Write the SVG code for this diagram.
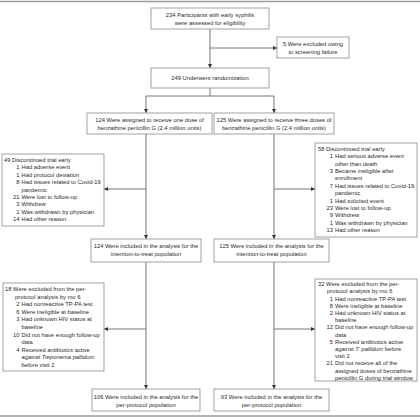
<svg xmlns="http://www.w3.org/2000/svg" width="420" height="420" viewBox="0 0 420 420">
<style>
text{font-family:"Liberation Sans",Arial,sans-serif;font-size:5.8px;fill:#2a2a2a}
.c{text-anchor:middle}
.n{text-anchor:end}
.box{fill:#fff;stroke:#8a8a8a;stroke-width:0.8}
.ln{fill:none;stroke:#555;stroke-width:0.8}
.rule{stroke:#9a9a9a;stroke-width:1.6}
.i{font-style:italic}
</style>
<defs>
<marker id="ah" markerUnits="userSpaceOnUse" markerWidth="4" markerHeight="4" viewBox="0 0 6 6" refX="6" refY="3" orient="auto">
<path d="M0,0 L6,3 L0,6 z" fill="#333"/>
</marker>
</defs>
<rect width="420" height="420" fill="#fff"/>
<line class="rule" x1="0" y1="1.5" x2="420" y2="1.5"/>
<line class="rule" x1="0" y1="416" x2="420" y2="416"/>

<g id="connectors">
<line class="ln" x1="210" y1="29" x2="210" y2="68" marker-end="url(#ah)"/>
<line class="ln" x1="210" y1="48" x2="277" y2="48" marker-end="url(#ah)"/>
<polyline class="ln" points="210,88 210,96 146,96 146,113" marker-end="url(#ah)"/>
<polyline class="ln" points="210,96 274,96 274,113" marker-end="url(#ah)"/>
<line class="ln" x1="146" y1="134" x2="146" y2="239" marker-end="url(#ah)"/>
<line class="ln" x1="146" y1="189" x2="104" y2="189" marker-end="url(#ah)"/>
<line class="ln" x1="274" y1="134" x2="274" y2="239" marker-end="url(#ah)"/>
<line class="ln" x1="274" y1="189" x2="315" y2="189" marker-end="url(#ah)"/>
<line class="ln" x1="146" y1="262" x2="146" y2="389" marker-end="url(#ah)"/>
<line class="ln" x1="146" y1="329" x2="104" y2="329" marker-end="url(#ah)"/>
<line class="ln" x1="274" y1="262" x2="274" y2="389" marker-end="url(#ah)"/>
<line class="ln" x1="274" y1="329" x2="315" y2="329" marker-end="url(#ah)"/>
</g>

<g id="assessed">
<rect class="box" x="151" y="8" width="118" height="21"/>
<text class="c" x="210" y="17">234 Participants with early syphilis</text>
<text class="c" x="210" y="25">were assessed for eligibility</text>
</g>

<g id="excluded">
<rect class="box" x="277" y="37" width="72" height="21"/>
<text class="c" x="313" y="45.5">5 Were excluded owing</text>
<text class="c" x="313" y="53.5">to screening failure</text>
</g>

<g id="randomization">
<rect class="box" x="151" y="68" width="118" height="20"/>
<text class="c" x="210" y="80">249 Underwent randomization</text>
</g>

<g id="one-dose">
<rect class="box" x="87" y="113" width="125" height="21"/>
<text class="c" x="149.5" y="121.5">124 Were assigned to receive one dose of</text>
<text class="c" x="149.5" y="129.5">benzathine penicillin G (2.4 million units)</text>
</g>

<g id="three-doses">
<rect class="box" x="214" y="113" width="120" height="21"/>
<text class="c" x="274" y="121.5">125 Were assigned to receive three doses of</text>
<text class="c" x="274" y="129.5">benzathine penicillin G (2.4 million units)</text>
</g>

<g id="discontinued-left">
<rect class="box" x="2" y="154" width="102" height="72"/>
<text x="4" y="162">49 Discontinued trial early</text>
<text class="n" x="19.5" y="169.4">1</text><text x="21.5" y="169.4">Had adverse event</text>
<text class="n" x="19.5" y="176.8">1</text><text x="21.5" y="176.8">Had protocol deviation</text>
<text class="n" x="19.5" y="184.2">8</text><text x="21.5" y="184.2">Had issues related to Covid-19</text>
<text x="21.5" y="191.6">pandemic</text>
<text class="n" x="19.5" y="199">21</text><text x="21.5" y="199">Were lost to follow-up</text>
<text class="n" x="19.5" y="206.4">3</text><text x="21.5" y="206.4">Withdrew</text>
<text class="n" x="19.5" y="213.8">1</text><text x="21.5" y="213.8">Was withdrawn by physician</text>
<text class="n" x="19.5" y="221.2">14</text><text x="21.5" y="221.2">Had other reason</text>
</g>

<g id="discontinued-right">
<rect class="box" x="315" y="143" width="102" height="94"/>
<text x="318" y="150.7">58 Discontinued trial early</text>
<text class="n" x="333" y="158.1">1</text><text x="335" y="158.1">Had serious adverse event</text>
<text x="335" y="165.5">other than death</text>
<text class="n" x="333" y="172.9">3</text><text x="335" y="172.9">Became ineligible after</text>
<text x="335" y="180.3">enrollment</text>
<text class="n" x="333" y="187.7">7</text><text x="335" y="187.7">Had issues related to Covid-19</text>
<text x="335" y="195.1">pandemic</text>
<text class="n" x="333" y="202.5">1</text><text x="335" y="202.5">Had solicited event</text>
<text class="n" x="333" y="209.9">23</text><text x="335" y="209.9">Were lost to follow-up</text>
<text class="n" x="333" y="217.3">9</text><text x="335" y="217.3">Withdrew</text>
<text class="n" x="333" y="224.7">1</text><text x="335" y="224.7">Was withdrawn by physician</text>
<text class="n" x="333" y="232.1">13</text><text x="335" y="232.1">Had other reason</text>
</g>

<g id="itt-left">
<rect class="box" x="91" y="239" width="110" height="23"/>
<text class="c" x="146" y="248">124 Were included in the analysis for the</text>
<text class="c" x="146" y="256">intention-to-treat population</text>
</g>

<g id="itt-right">
<rect class="box" x="214" y="239" width="115" height="23"/>
<text class="c" x="271.5" y="248">125 Were included in the analysis for the</text>
<text class="c" x="271.5" y="256">intention-to-treat population</text>
</g>

<g id="pp-excluded-left">
<rect class="box" x="3" y="283" width="101" height="88"/>
<text x="5" y="291">18 Were excluded from the per-</text>
<text x="15" y="298.6">protocol analysis by mo 6</text>
<text class="n" x="19.5" y="306.2">2</text><text x="21.5" y="306.2">Had nonreactive TP-PA test</text>
<text class="n" x="19.5" y="313.8">6</text><text x="21.5" y="313.8">Were ineligible at baseline</text>
<text class="n" x="19.5" y="321.4">3</text><text x="21.5" y="321.4">Had unknown HIV status at</text>
<text x="21.5" y="329">baseline</text>
<text class="n" x="19.5" y="336.6">10</text><text x="21.5" y="336.6">Did not have enough follow-up</text>
<text x="21.5" y="344.2">data</text>
<text class="n" x="19.5" y="351.8">4</text><text x="21.5" y="351.8">Received antibiotics active</text>
<text x="21.5" y="359.4">against <tspan class="i">Treponema pallidum</tspan></text>
<text x="21.5" y="367">before visit 2</text>
</g>

<g id="pp-excluded-right">
<rect class="box" x="315" y="279" width="102" height="102"/>
<text x="318" y="286.1">32 Were excluded from the per-</text>
<text x="327" y="293.3">protocol analysis by mo 6</text>
<text class="n" x="333" y="300.5">1</text><text x="335" y="300.5">Had nonreactive TP-PA test</text>
<text class="n" x="333" y="307.7">8</text><text x="335" y="307.7">Were ineligible at baseline</text>
<text class="n" x="333" y="314.9">2</text><text x="335" y="314.9">Had unknown HIV status at</text>
<text x="335" y="322.1">baseline</text>
<text class="n" x="333" y="329.3">12</text><text x="335" y="329.3">Did not have enough follow-up</text>
<text x="335" y="336.5">data</text>
<text class="n" x="333" y="343.7">5</text><text x="335" y="343.7">Received antibiotics active</text>
<text x="335" y="350.9">against <tspan class="i">T. pallidum</tspan> before</text>
<text x="335" y="358.1">visit 2</text>
<text class="n" x="333" y="365.3">21</text><text x="335" y="365.3">Did not receive all of the</text>
<text x="335" y="372.5">assigned doses of benzathine</text>
<text x="335" y="379.7">penicillin G during trial window</text>
</g>

<g id="pp-left">
<rect class="box" x="92" y="389" width="108" height="22"/>
<text class="c" x="146" y="398.5">106 Were included in the analysis for the</text>
<text class="c" x="146" y="406.5">per-protocol population</text>
</g>

<g id="pp-right">
<rect class="box" x="214" y="389" width="115" height="22"/>
<text class="c" x="271.5" y="398.5">93 Were included in the analysis for the</text>
<text class="c" x="271.5" y="406.5">per-protocol population</text>
</g>
</svg>
